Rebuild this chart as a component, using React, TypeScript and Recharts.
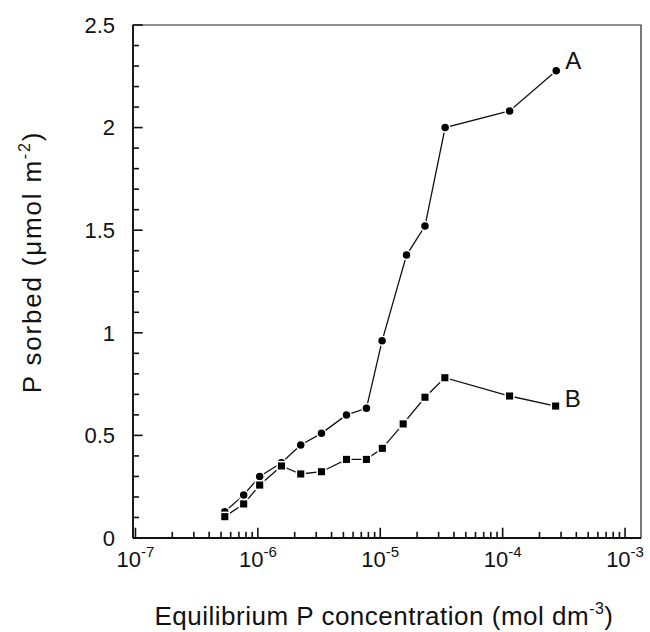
import { LineChart, Line, XAxis, YAxis, ReferenceArea, ReferenceLine, LabelList } from "recharts";

// series A (circles) and B (squares): equilibrium P concentration (mol dm-3) vs P sorbed
const concA = [5.37e-7, 7.66e-7, 1.035e-6, 1.56e-6, 2.24e-6, 3.31e-6, 5.3e-6, 7.71e-6, 1.035e-5, 1.64e-5, 2.32e-5, 3.39e-5, 1.14e-4, 2.74e-4];
const sorbedA = [0.128, 0.21, 0.3, 0.367, 0.453, 0.51, 0.6, 0.632, 0.961, 1.379, 1.52, 2.0, 2.081, 2.277];
const concB = [5.37e-7, 7.66e-7, 1.035e-6, 1.56e-6, 2.24e-6, 3.31e-6, 5.3e-6, 7.71e-6, 1.04e-5, 1.54e-5, 2.32e-5, 3.37e-5, 1.14e-4, 2.71e-4];
const sorbedB = [0.104, 0.166, 0.258, 0.351, 0.312, 0.323, 0.383, 0.383, 0.437, 0.556, 0.686, 0.781, 0.692, 0.643];

const xMajorTicks = [1e-7, 1e-6, 1e-5, 1e-4, 1e-3];
const xTickExponents = ["-7", "-6", "-5", "-4", "-3"];
const yMajorTicks = [0, 0.5, 1, 1.5, 2, 2.5];
const yTickLabels = ["0", "0.5", "1", "1.5", "2", "2.5"];

const FONT = "'Liberation Sans', Arial, Helvetica, sans-serif";
const X_DOMAIN = [9.55e-8, 1.35e-3];
const PLOT_LEFT = 133;
const PLOT_BOTTOM = 538;

const dataA = concA.map((c, i) => ({ conc: c, sorbed: sorbedA[i] }));
const dataB = concB.map((c, i) => ({ conc: c, sorbed: sorbedB[i] }));

// inward tick marks: x minor ticks 2..9 in each decade, y minor ticks every 0.1
const xMinorTicks: number[] = [];
xMajorTicks.slice(0, -1).forEach((d) => {
  for (let k = 2; k <= 9; k++) xMinorTicks.push(k * d);
});
const yMinorTicks: number[] = [];
for (let i = 1; i < 25; i++) if (i % 5 !== 0) yMinorTicks.push(i / 10);

// tick lengths expressed in axis units (≈ 10px / 6px)
const X_TICK_MAJOR = 0.05;
const X_TICK_MINOR = 0.03;
const Y_TICK_MAJOR = 1.2;
const Y_TICK_MINOR = 1.12;

const XTick = ({ x, payload }: any) => {
  const idx = xMajorTicks.findIndex((t) => Math.abs(t - payload.value) / t < 1e-6);
  if (idx < 0) return <g />;
  return (
    <text x={x} y={PLOT_BOTTOM + 29} textAnchor="middle" fontSize={22} fontFamily={FONT} fill="#111">
      10
      <tspan dy={-10} fontSize={15}>{xTickExponents[idx]}</tspan>
    </text>
  );
};

const YTick = ({ y, payload }: any) => {
  const idx = yMajorTicks.findIndex((t) => Math.abs(t - payload.value) < 1e-6);
  if (idx < 0) return <g />;
  return (
    <text x={PLOT_LEFT - 18} y={y} dy="0.35em" textAnchor="end" fontSize={22} fontFamily={FONT} fill="#111">
      {yTickLabels[idx]}
    </text>
  );
};

const circleDot = ({ cx, cy, index }: any) => (
  <circle key={`a-${index}`} cx={cx} cy={cy} r={4.5} fill="#000" stroke="#fff" strokeWidth={1.5} />
);
const squareDot = ({ cx, cy, index }: any) => (
  <rect key={`b-${index}`} x={cx - 4.3} y={cy - 4.3} width={8.6} height={8.6} fill="#000" stroke="#fff" strokeWidth={1.5} />
);

const endLabel = (name: string, last: number, dy: number) => (props: any) => {
  if (props.index !== last) return <g />;
  return (
    <text x={props.x + 9} y={props.y + dy} fontSize={24} fontFamily={FONT} fill="#111">
      {name}
    </text>
  );
};

const xTitle = () => (
  <text x={384} y={625} textAnchor="middle" fontSize={26} letterSpacing={0.5} fontFamily={FONT} fill="#111">
    Equilibrium P concentration (mol dm
    <tspan dy={-11} fontSize={16}>-3</tspan>
    <tspan dy={11}>)</tspan>
  </text>
);

const yTitle = () => (
  <text
    x={0}
    y={0}
    transform="translate(41, 262) rotate(-90)"
    textAnchor="middle"
    fontSize={26}
    letterSpacing={1.8}
    fontFamily={FONT}
    fill="#111"
  >
    P sorbed (μmol m
    <tspan dy={-11} fontSize={16}>-2</tspan>
    <tspan dy={11}>)</tspan>
  </text>
);

export default function App() {
  const tickStyle = { stroke: "#111", strokeWidth: 1.6, ifOverflow: "visible" as const };
  return (
    <div style={{ position: "absolute", left: 0, top: 0, background: "#fff" }}>
      <LineChart width={650} height={632} margin={{ top: 25, right: 9, bottom: 54, left: 73 }}>
        <XAxis
          dataKey="conc"
          type="number"
          scale="log"
          domain={X_DOMAIN}
          allowDataOverflow
          ticks={xMajorTicks}
          interval={0}
          tick={XTick}
          tickLine={false}
          height={40}
          axisLine={{ stroke: "#111", strokeWidth: 1.8 }}
          label={{ content: xTitle }}
        />
        <YAxis
          dataKey="sorbed"
          type="number"
          domain={[0, 2.5]}
          allowDataOverflow
          ticks={yMajorTicks}
          interval={0}
          tick={YTick}
          tickLine={false}
          width={60}
          axisLine={{ stroke: "#111", strokeWidth: 1.8 }}
          label={{ content: yTitle }}
        />
        <ReferenceArea x1={X_DOMAIN[0]} x2={X_DOMAIN[1]} y1={0} y2={2.5} fill="none" stroke="#222" strokeWidth={1.2} />
        {xMajorTicks.map((t) => (
          <ReferenceLine key={`xM${t}`} segment={[{ x: t, y: 0 }, { x: t, y: X_TICK_MAJOR }]} {...tickStyle} />
        ))}
        {xMinorTicks.map((t) => (
          <ReferenceLine key={`xm${t}`} segment={[{ x: t, y: 0 }, { x: t, y: X_TICK_MINOR }]} {...tickStyle} />
        ))}
        {yMajorTicks.map((t) => (
          <ReferenceLine
            key={`yM${t}`}
            segment={[{ x: X_DOMAIN[0], y: t }, { x: X_DOMAIN[0] * Y_TICK_MAJOR, y: t }]}
            {...tickStyle}
          />
        ))}
        {yMinorTicks.map((t) => (
          <ReferenceLine
            key={`ym${t}`}
            segment={[{ x: X_DOMAIN[0], y: t }, { x: X_DOMAIN[0] * Y_TICK_MINOR, y: t }]}
            {...tickStyle}
          />
        ))}
        <Line
          data={dataA}
          dataKey="sorbed"
          stroke="#111"
          strokeWidth={1.3}
          dot={circleDot}
          isAnimationActive={false}
        >
          <LabelList dataKey="sorbed" content={endLabel("A", dataA.length - 1, -2)} />
        </Line>
        <Line
          data={dataB}
          dataKey="sorbed"
          stroke="#111"
          strokeWidth={1.3}
          dot={squareDot}
          isAnimationActive={false}
        >
          <LabelList dataKey="sorbed" content={endLabel("B", dataB.length - 1, 1)} />
        </Line>
      </LineChart>
    </div>
  );
}
